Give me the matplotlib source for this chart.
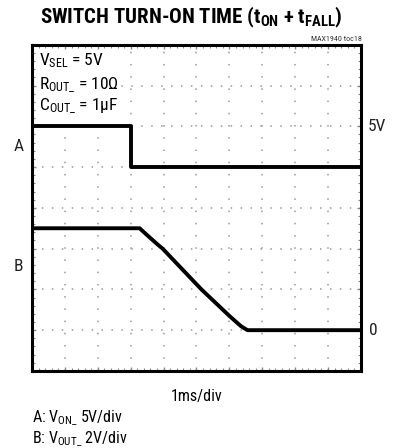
import numpy as np
import matplotlib
matplotlib.use("Agg")
import matplotlib.pyplot as plt
from matplotlib import font_manager

# the original uses a condensed sans; take the narrowest one installed
names = {f.name for f in font_manager.fontManager.ttflist}
narrow = 'Liberation Sans'
for cand in ['Liberation Sans Narrow', 'Roboto Condensed', 'DejaVu Sans Condensed', 'Roboto']:
    if cand in names:
        narrow = cand
        break
plt.rcParams['font.family'] = [narrow, 'DejaVu Sans']
plt.rcParams['mathtext.fontset'] = 'custom'
plt.rcParams['mathtext.rm'] = narrow
plt.rcParams['mathtext.bf'] = narrow + ':bold'
plt.rcParams['mathtext.default'] = 'regular'

# time in divisions (1ms/div), level in screen divisions
t_a = [0, 3.0, 3.0, 10]
v_a = [6.0, 6.0, 5.0, 5.0]

t_b = [0, 3.27, 3.5, 3.82, 3.97, 5.15, 6.0, 6.35, 6.55, 10]
v_b = [3.5, 3.5, 3.33, 3.1, 3.0, 2.0, 1.35, 1.1, 1.0, 1.0]

fig = plt.figure(figsize=(4.01, 4.48), dpi=100)
ax = fig.add_axes([0.080, 0.172, 0.820, 0.728])

ax.plot(t_a, v_a, color='black', lw=2.8)
ax.plot(t_b, v_b, color='black', lw=2.8)

ax.set_xlim(0, 10)
ax.set_ylim(0, 8)
ax.set_xticks(range(1, 10))
ax.set_yticks(range(1, 8))
ax.set_xticks(np.arange(0, 10.01, 0.2), minor=True)
ax.set_yticks(np.arange(0, 8.01, 0.2), minor=True)
ax.tick_params(which='both', direction='in', labelbottom=False, labelleft=False,
               top=True, right=True, color='#888888')
ax.tick_params(which='major', length=3, width=1)
ax.tick_params(which='minor', length=2, width=0.8)
ax.xaxis.grid(True, color='#999999', linestyle=(0, (1, 7)), lw=1.1)
ax.yaxis.grid(True, color='#999999', linestyle=(0, (1, 5.5)), lw=1.1)
for s in ax.spines.values():
    s.set_linewidth(2.2)

box = dict(facecolor='white', edgecolor='none', pad=0.5)
ax.text(0.22, 7.62, "V$_{SEL}$ = 5V", fontsize=12.5, va='center', bbox=box)
ax.text(0.22, 7.0, "R$_{OUT\\_}$ = 10Ω", fontsize=12.5, va='center', bbox=box)
ax.text(0.22, 6.5, "C$_{OUT\\_}$ = 1μF", fontsize=12.5, va='center', bbox=box)

ax.text(-0.42, 5.5, "A", fontsize=12.5, ha='center', va='center', color='#222222')
ax.text(-0.42, 2.55, "B", fontsize=12.5, ha='center', va='center', color='#222222')
ax.text(10.22, 6.0, "5V", fontsize=12.5, ha='left', va='center', color='#222222')
ax.text(10.25, 1.0, "0", fontsize=12.5, ha='left', va='center', color='#222222')

fig.text(0.478, 0.960, "SWITCH TURN-ON TIME (t$_{ON}$ + t$_{FALL}$)", fontsize=15,
         fontweight='bold', ha='center', va='center')
fig.text(0.902, 0.912, "MAX1940 toc18", fontsize=5.8, ha='right', va='center',
         color='#333333')
fig.text(0.49, 0.114, "1ms/div", fontsize=11.5, ha='center', va='center')
fig.text(0.080, 0.066, "A: V$_{ON\\_}$ 5V/div", fontsize=11.5, ha='left', va='center')
fig.text(0.080, 0.020, "B: V$_{OUT\\_}$ 2V/div", fontsize=11.5, ha='left', va='center')

fig.savefig("out.png", dpi=100)
